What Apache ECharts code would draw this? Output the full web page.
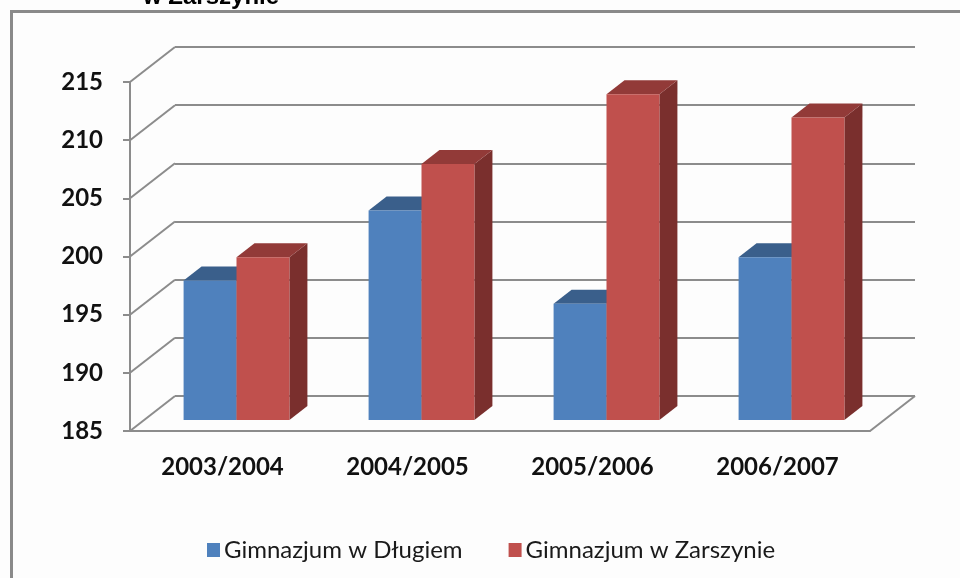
<!DOCTYPE html>
<html>
<head>
<meta charset="utf-8">
<script src="https://cdn.jsdelivr.net/npm/echarts@6/dist/echarts.min.js"></script>
<style>
  html, body { margin: 0; padding: 0; background: #fdfdfd; }
  #main { width: 960px; height: 578px; }
</style>
</head>
<body>
<div id="main"></div>
<script>
// dane
var years = ['2003/2004', '2004/2005', '2005/2006', '2006/2007'];
var dlugie = [197, 203, 195, 199];
var zarszyn = [199, 207, 213, 211];
var yTicks = [185, 190, 195, 200, 205, 210, 215];

var chart = echarts.init(document.getElementById('main'));

// przesuniecie sciany tylnej i slupkow (pseudo 3D)
var WALL_DX = 45, WALL_DY = -35;
var BAR_FX = 14, BAR_FY = -11;
var BAR_DX = 18, BAR_DY = -14;
var GRID_COLOR = '#8c8c8c';

function barRenderer(side, front, top, right) {
    return function (params, api) {
        var idx = api.value(0);
        var val = api.value(1);
        var p = api.coord([idx, val]);
        var base = api.coord([idx, yTicks[0]]);
        var w = api.size([1, 0])[0] * 0.286;
        var x0 = (side < 0 ? p[0] - w : p[0]) + BAR_FX;
        var yt = p[1] + BAR_FY;
        var yb = base[1] + BAR_FY;
        return {
            type: 'group',
            children: [
                {
                    type: 'polygon',
                    shape: { points: [[x0 + w, yt], [x0 + w + BAR_DX, yt + BAR_DY], [x0 + w + BAR_DX, yb + BAR_DY], [x0 + w, yb]] },
                    style: { fill: right }
                },
                {
                    type: 'polygon',
                    shape: { points: [[x0, yt], [x0 + w, yt], [x0 + w + BAR_DX, yt + BAR_DY], [x0 + BAR_DX, yt + BAR_DY]] },
                    style: { fill: top }
                },
                {
                    type: 'rect',
                    shape: { x: x0, y: yt, width: w, height: yb - yt },
                    style: { fill: front }
                }
            ]
        };
    };
}

var option = {
    backgroundColor: '#fdfdfd',
    animation: false,
    graphic: [
        {
            type: 'rect',
            shape: { x: 11.5, y: 11.5, width: 1000, height: 700 },
            style: { fill: 'none', stroke: '#8a8a8a', lineWidth: 3 }
        },
        {
            type: 'text',
            x: 143, y: 9,
            style: {
                text: 'w Zarszynie',
                font: 'bold 24px "Liberation Sans", Arial, sans-serif',
                fill: '#000',
                textVerticalAlign: 'bottom'
            }
        }
    ],
    legend: {
        left: 202,
        top: 533,
        icon: 'rect',
        itemWidth: 13,
        itemHeight: 14,
        itemGap: 46,
        textStyle: { fontFamily: 'Lato', fontSize: 24, color: '#1a1a1a', padding: [0, 0, 0, -1] },
        data: ['Gimnazjum w Długiem', 'Gimnazjum w Zarszynie']
    },
    grid: [
        { left: 130, top: 82, width: 740, height: 349 },
        { left: 130 + WALL_DX, top: 82 + WALL_DY, width: 740, height: 349 }
    ],
    xAxis: [
        {
            type: 'category',
            gridIndex: 0,
            data: years,
            axisLine: { lineStyle: { color: GRID_COLOR, width: 2 } },
            axisTick: { length: 7, lineStyle: { color: GRID_COLOR, width: 2 } },
            axisLabel: { margin: 24, fontFamily: 'Lato', fontWeight: 'bold', fontSize: 24, color: '#111' }
        },
        {
            type: 'category',
            gridIndex: 1,
            data: years,
            show: false
        }
    ],
    yAxis: [
        {
            type: 'value',
            gridIndex: 0,
            min: 185, max: 215, interval: 5,
            axisLine: { show: true, lineStyle: { color: GRID_COLOR, width: 2 } },
            axisTick: { show: true, length: 7, lineStyle: { color: GRID_COLOR, width: 2 } },
            splitLine: { show: false },
            axisLabel: { margin: 27, fontFamily: 'Lato', fontWeight: 'bold', fontSize: 24, color: '#111' }
        },
        {
            type: 'value',
            gridIndex: 1,
            min: 185, max: 215, interval: 5,
            axisLine: { show: false },
            axisTick: { show: false },
            axisLabel: { show: false },
            splitLine: { show: true, lineStyle: { color: GRID_COLOR, width: 2 } }
        }
    ],
    series: [
        {
            // sciana boczna + podloga
            type: 'custom',
            xAxisIndex: 0,
            yAxisIndex: 0,
            silent: true,
            data: yTicks.map(function (v) { return [0, v]; }),
            renderItem: function (params, api) {
                var cs = params.coordSys;
                var y = api.coord([0, api.value(1)])[1];
                var kids = [{
                    type: 'line',
                    shape: { x1: cs.x, y1: y, x2: cs.x + WALL_DX, y2: y + WALL_DY },
                    style: { stroke: GRID_COLOR, lineWidth: 2 }
                }];
                if (api.value(1) === yTicks[0]) {
                    kids.push({
                        type: 'line',
                        shape: { x1: cs.x + cs.width, y1: y, x2: cs.x + cs.width + WALL_DX, y2: y + WALL_DY },
                        style: { stroke: GRID_COLOR, lineWidth: 2 }
                    });
                }
                return { type: 'group', children: kids };
            }
        },
        {
            name: 'Gimnazjum w Długiem',
            type: 'custom',
            xAxisIndex: 0,
            yAxisIndex: 0,
            itemStyle: { color: '#4f81bd' },
            data: dlugie.map(function (v, i) { return [i, v]; }),
            renderItem: barRenderer(-1, '#4f81bd', '#3a5f8b', '#2e4b70')
        },
        {
            name: 'Gimnazjum w Zarszynie',
            type: 'custom',
            xAxisIndex: 0,
            yAxisIndex: 0,
            itemStyle: { color: '#c0504d' },
            data: zarszyn.map(function (v, i) { return [i, v]; }),
            renderItem: barRenderer(1, '#c0504d', '#923a38', '#7a2f2d')
        }
    ]
};

chart.setOption(option);
</script>
</body>
</html>
